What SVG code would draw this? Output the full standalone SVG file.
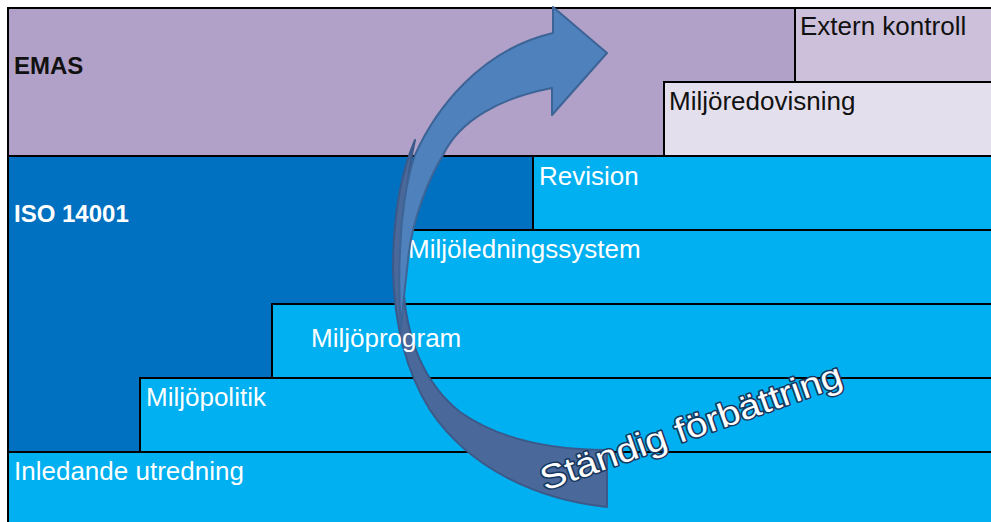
<svg xmlns="http://www.w3.org/2000/svg" width="991" height="522" viewBox="0 0 991 522">
<style>
.box{stroke:#000;stroke-width:2}
.lbl{font-family:"Liberation Sans",Arial,sans-serif;font-size:26px}
.w{fill:#fff}
.k{fill:#111}
.hd{font-family:"Liberation Sans",Arial,sans-serif;font-size:24px;font-weight:bold}
</style>
<defs>
<path id="tail" d="M607,507 C540,500 470,470 430,410 C405,370 394,320 393,270 C393,220 400,175 415,140 C406,180 402,230 403,280 C405,330 420,380 460,412 C500,440 550,450 607,450 Z"/>
<path id="head" d="M553,33 L553,7 L607,53 L552,115 L552,88 C500,98 460,120 443,155 C428,180 412,220 408,260 C405,290 402,310 401,330 C399,300 399,270 400,250 C401,220 406,180 415,155 C435,110 480,50 553,33 Z"/>
<mask id="noarrow" maskUnits="userSpaceOnUse" x="0" y="0" width="991" height="522">
<rect width="991" height="522" fill="#fff"/>
<use href="#tail" fill="#000" stroke="#000" stroke-width="2"/>
<use href="#head" fill="#000" stroke="#000" stroke-width="2"/>
</mask>
</defs>
<rect width="991" height="522" fill="#fff"/>
<g id="emas">
<rect class="box" x="8" y="8" width="984" height="148" fill="#B1A0C7"/>
<text class="hd k" x="14" y="74">EMAS</text>
</g>
<g id="iso14001">
<rect class="box" x="8" y="156" width="984" height="370" fill="#0070C0"/>
<text class="hd w" x="14" y="222">ISO 14001</text>
</g>
<g id="extern-kontroll">
<rect class="box" x="795" y="8" width="197" height="74" fill="#CCC0DA"/>
<text class="lbl k" x="800" y="35">Extern kontroll</text>
</g>
<g id="miljoredovisning">
<rect class="box" x="664" y="82" width="328" height="74" fill="#E4DFEC"/>
<text class="lbl k" x="669" y="110">Miljöredovisning</text>
</g>
<g id="revision">
<rect class="box" x="533" y="156" width="459" height="74" fill="#00B0F0"/>
<text class="lbl w" x="539" y="185">Revision</text>
</g>
<g id="miljoledningssystem">
<rect class="box" x="403" y="230" width="589" height="74" fill="#00B0F0"/>
<text class="lbl w" x="408" y="258">Miljöledningssystem</text>
</g>
<g id="miljopolitik">
<rect class="box" x="140" y="378" width="852" height="74" fill="#00B0F0"/>
<text class="lbl w" x="146" y="406">Miljöpolitik</text>
</g>
<g id="inledande-utredning">
<rect class="box" x="8" y="452" width="984" height="74" fill="#00B0F0"/>
<text class="lbl w" x="14" y="480">Inledande utredning</text>
</g>
<g id="connectors">
<use href="#tail" fill="#4A6899" stroke="#3B5A8A" stroke-width="2" stroke-linejoin="round"/>
<use href="#head" fill="#4F81BD" stroke="#3C6496" stroke-width="2" stroke-linejoin="round"/>
</g>
<g id="miljoprogram">
<rect class="box" x="272" y="304" width="720" height="74" fill="#00B0F0" mask="url(#noarrow)"/>
<text class="lbl w" x="311" y="347">Miljöprogram</text>
</g>
<g id="standig-forbattring">
<text x="545" y="491" transform="rotate(-19.5 545 491)" textLength="318" lengthAdjust="spacingAndGlyphs" font-family="'Liberation Sans',Arial,sans-serif" font-size="34" fill="#fff" stroke="#17375E" stroke-width="3" paint-order="stroke" stroke-linejoin="round">Ständig förbättring</text>
</g>
</svg>
